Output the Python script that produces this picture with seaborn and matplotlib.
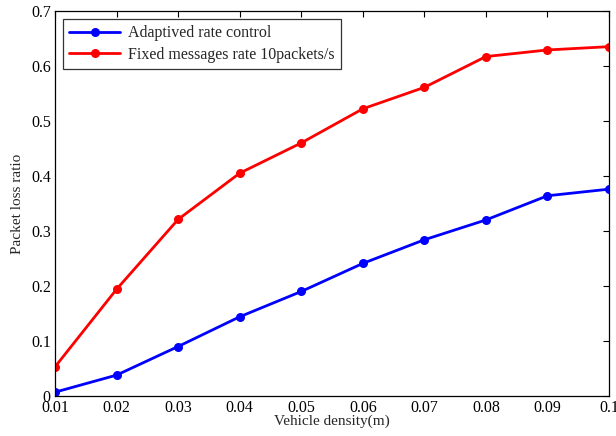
import numpy as np
import pandas as pd
import matplotlib
matplotlib.use("Agg")
import matplotlib.pyplot as plt
import seaborn as sns

# Datos
density = [0.01, 0.02, 0.03, 0.04, 0.05, 0.06, 0.07, 0.08, 0.09, 0.1]
adaptive_loss = [0.007, 0.038, 0.090, 0.144, 0.190, 0.241, 0.284, 0.320, 0.364, 0.376]
fixed_loss = [0.053, 0.194, 0.321, 0.405, 0.460, 0.522, 0.561, 0.617, 0.629, 0.635]
series_names = ["Adaptived rate control", "Fixed messages rate 10packets/s"]
x_ticks = [0.01, 0.02, 0.03, 0.04, 0.05, 0.06, 0.07, 0.08, 0.09, 0.1]
x_ticklabels = ["0.01", "0.02", "0.03", "0.04", "0.05", "0.06", "0.07", "0.08", "0.09", "0.1"]
y_ticks = [0, 0.1, 0.2, 0.3, 0.4, 0.5, 0.6, 0.7]
y_ticklabels = ["0", "0.1", "0.2", "0.3", "0.4", "0.5", "0.6", "0.7"]

df = pd.DataFrame({
    "density": density * 2,
    "loss": adaptive_loss + fixed_loss,
    "series": [series_names[0]] * len(density) + [series_names[1]] * len(density),
})

sns.set_style("white")
plt.rcParams['font.family'] = ['Liberation Serif', 'DejaVu Serif']
plt.rcParams['font.size'] = 11

fig = plt.figure(figsize=(6.16, 4.36), dpi=100)
ax = fig.add_axes([0.0893, 0.0917, 0.8993, 0.8833])

sns.lineplot(
    data=df, x="density", y="loss", hue="series",
    palette={series_names[0]: "#0000ff", series_names[1]: "#ff0000"},
    marker="o", markersize=6.5, markeredgewidth=0, linewidth=2,
    ax=ax,
)

ax.set_xlim(0.01, 0.1)
ax.set_ylim(0, 0.7)
ax.set_xticks(x_ticks)
ax.set_xticklabels(x_ticklabels)
ax.set_yticks(y_ticks)
ax.set_yticklabels(y_ticklabels)
ax.set_xlabel("Vehicle density(m)", labelpad=-1, fontsize=11)
ax.set_ylabel("Packet loss ratio", labelpad=5, fontsize=11)
ax.tick_params(direction="in", length=4, width=0.8, top=True, right=True,
               colors="black", labelsize=11.5, pad=3)
for s in ax.spines.values():
    s.set_color("black")
    s.set_linewidth(0.9)

leg = ax.legend(loc="upper left", fontsize=11.5, frameon=True, fancybox=False,
                edgecolor="black", borderaxespad=0.5, handlelength=3.2,
                borderpad=0.4, labelspacing=0.35, handletextpad=0.5)
leg.get_frame().set_linewidth(0.9)

fig.savefig("out.png", dpi=100)
